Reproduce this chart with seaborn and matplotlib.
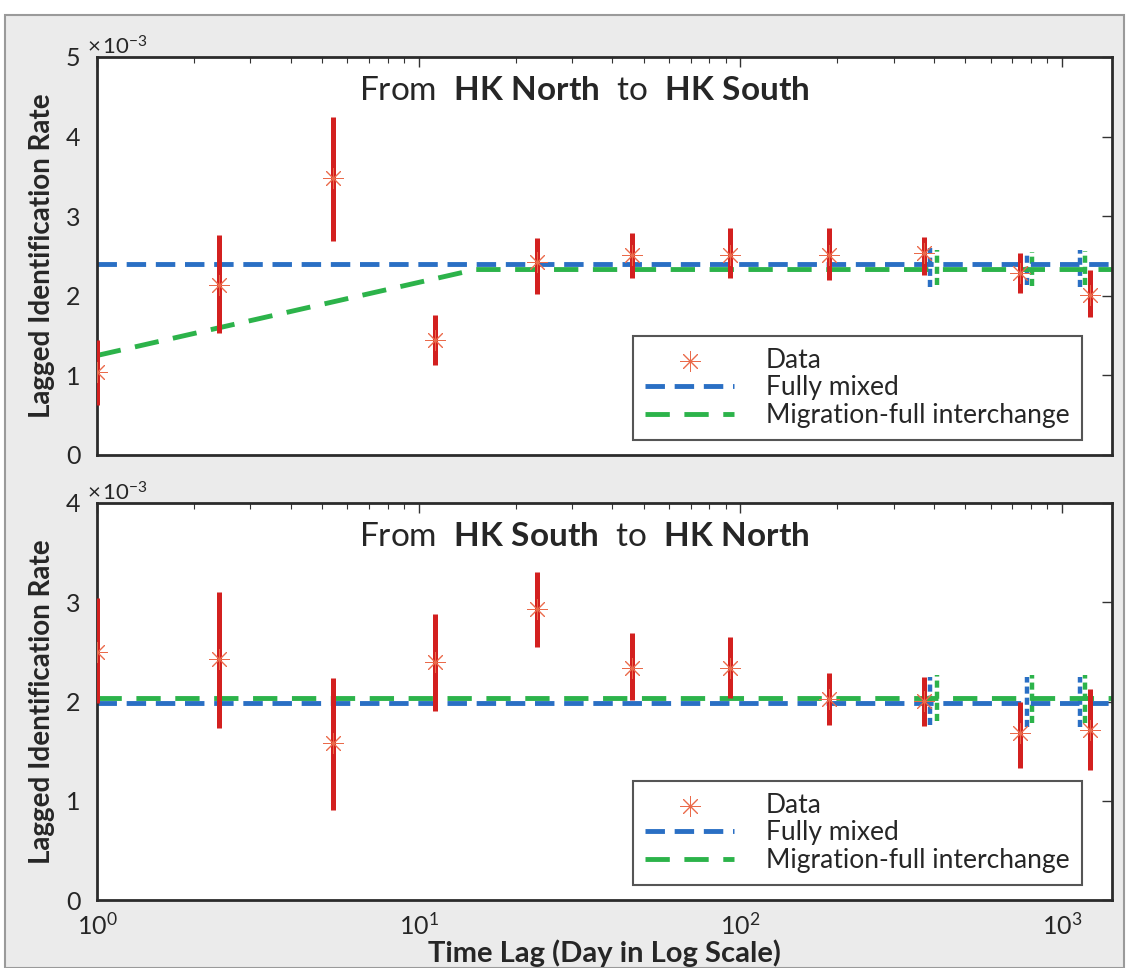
import numpy as np
import pandas as pd
import matplotlib
matplotlib.use('Agg')
import matplotlib.pyplot as plt
import seaborn as sns
from matplotlib.patches import Rectangle
from matplotlib.ticker import FuncFormatter, LogLocator

# time lags (days)
lags = [1, 2.4, 5.4, 11.2, 23.3, 46, 93, 188, 372, 740, 1220]

# From HK North to HK South (x 1e-3)
ns_rate = [1.04, 2.14, 3.48, 1.44, 2.42, 2.51, 2.51, 2.51, 2.54, 2.29, 2.01]
ns_low = [0.63, 1.53, 2.69, 1.13, 2.02, 2.22, 2.22, 2.20, 2.26, 2.04, 1.73]
ns_high = [1.44, 2.76, 4.25, 1.76, 2.73, 2.79, 2.85, 2.85, 2.74, 2.54, 2.32]
ns_mixed = 2.40
ns_mig_x = [1, 15, 1430]
ns_mig_y = [1.25, 2.33, 2.33]

# From HK South to HK North (x 1e-3)
sn_rate = [2.50, 2.43, 1.58, 2.40, 2.93, 2.34, 2.34, 2.03, 2.01, 1.68, 1.71]
sn_low = [1.98, 1.73, 0.91, 1.90, 2.55, 2.02, 2.04, 1.76, 1.75, 1.33, 1.31]
sn_high = [3.04, 3.10, 2.24, 2.88, 3.30, 2.69, 2.65, 2.29, 2.25, 2.00, 2.13]
sn_mixed = 1.98
sn_mig_x = [1, 15, 1430]
sn_mig_y = [2.04, 2.04, 2.04]

# model error bars near the long lags
mix_bar_x = [388, 778, 1137]
mig_bar_x = [408, 806, 1178]
ns_mix_bar = [(2.11, 2.60), (2.14, 2.55), (2.11, 2.58)]
ns_mig_bar = [(2.14, 2.58), (2.12, 2.55), (2.14, 2.56)]
sn_mix_bar = [(1.76, 2.25), (1.74, 2.25), (1.74, 2.25)]
sn_mig_bar = [(1.80, 2.27), (1.78, 2.27), (1.78, 2.27)]

sns.set_theme(style='white')
plt.rcParams['font.family'] = ['Lato', 'DejaVu Sans']
plt.rcParams['mathtext.fontset'] = 'custom'
plt.rcParams['mathtext.rm'] = 'Lato'
plt.rcParams['mathtext.bf'] = 'Lato:bold'
plt.rcParams['mathtext.it'] = 'Lato:italic'

RED = '#d3201f'
STAR = '#ea6a4a'
BLUE = '#2a6fc4'
GREEN = '#2cb34a'

fig = plt.figure(figsize=(11.29, 9.68), dpi=100, facecolor='white')
fig.patches.append(Rectangle((5 / 1129, 0), 1119 / 1129, 953 / 968, transform=fig.transFigure,
                             facecolor='#ebebeb', edgecolor='#9a9a9a', lw=1.5, zorder=-1))

ax1 = fig.add_axes([97 / 1129, 513 / 968, 1015 / 1129, 398 / 968])
ax2 = fig.add_axes([97 / 1129, 68 / 968, 1015 / 1129, 397 / 968])

panels = [
    (ax1, ns_rate, ns_low, ns_high, ns_mixed, ns_mig_x, ns_mig_y, ns_mix_bar, ns_mig_bar, 5,
     r'From  $\mathbf{HK\ North}$  to  $\mathbf{HK\ South}$'),
    (ax2, sn_rate, sn_low, sn_high, sn_mixed, sn_mig_x, sn_mig_y, sn_mix_bar, sn_mig_bar, 4,
     r'From  $\mathbf{HK\ South}$  to  $\mathbf{HK\ North}$'),
]

for ax, rate, low, high, mixed, mig_x, mig_y, mix_bar, mig_bar, ytop, title in panels:
    ax.set_facecolor('white')
    sc = 1e-3
    df = pd.DataFrame({'lag': lags, 'rate': np.array(rate) * sc})
    ax.vlines(lags, np.array(low) * sc, np.array(high) * sc, color=RED, lw=3.6, zorder=3)
    ax.vlines(mix_bar_x, [b[0] * sc for b in mix_bar], [b[1] * sc for b in mix_bar],
              color=BLUE, lw=3.2, linestyles=(0, (1.6, 0.9)), zorder=2)
    ax.vlines(mig_bar_x, [b[0] * sc for b in mig_bar], [b[1] * sc for b in mig_bar],
              color=GREEN, lw=3.2, linestyles=(0, (1.6, 0.9)), zorder=2)
    sns.lineplot(x=[1, 1430], y=[mixed * sc] * 2, ax=ax, color=BLUE, lw=3.5,
                 dashes=False, label='Fully mixed', zorder=2)
    ax.lines[-1].set_dashes((4, 2))
    sns.lineplot(x=mig_x, y=np.array(mig_y) * sc, ax=ax, color=GREEN, lw=3.5,
                 label='Migration-full interchange', zorder=2, sort=False)
    ax.lines[-1].set_dashes((5, 3))
    sns.scatterplot(data=df, x='lag', y='rate', ax=ax, marker=(8, 2, 0), s=200,
                    color=STAR, linewidth=0.7, label='Data', zorder=4)

    ax.set_xscale('log')
    ax.set_xlim(1, 1430)
    ax.set_ylim(0, ytop * sc)
    ax.set_yticks(np.arange(0, ytop + 1) * sc)
    ax.yaxis.set_major_formatter(FuncFormatter(lambda v, p: '%d' % round(v * 1000)))
    ax.xaxis.set_minor_locator(LogLocator(base=10, subs=np.arange(2, 10), numticks=20))
    ax.tick_params(which='both', direction='in', top=True, right=True, color='#333333')
    ax.tick_params(which='major', length=7, width=1, labelsize=18)
    ax.tick_params(axis='y', which='major', pad=12)
    ax.tick_params(axis='x', which='major', pad=9)
    ax.tick_params(which='minor', length=4, width=0.8)
    for s in ax.spines.values():
        s.set_color('#2b2b2b')
        s.set_linewidth(2)
    ax.text(-0.01, 0.995, r'$\times\,10^{-3}$', transform=ax.transAxes, fontsize=16,
            ha='left', va='bottom')
    ax.text(0.48, 0.915, title, transform=ax.transAxes, fontsize=24, ha='center', va='center')
    ax.set_ylabel('Lagged Identification Rate', fontsize=20, fontweight='bold', labelpad=8)

    h, l = ax.get_legend_handles_labels()
    order = [l.index('Data'), l.index('Fully mixed'), l.index('Migration-full interchange')]
    leg = ax.legend([h[i] for i in order], [l[i] for i in order], loc='lower right',
                    bbox_to_anchor=(0.970, 0.038), fontsize=19, frameon=True, fancybox=False,
                    edgecolor='#555555', framealpha=1, handlelength=3.4, borderpad=0.45,
                    labelspacing=0.1, handletextpad=1.2, borderaxespad=0)
    leg.get_frame().set_linewidth(1.5)

ax1.set_xticklabels([])
ax1.set_xlabel('')
ax2.set_xticks([1, 10, 100, 1000])
ax2.set_xticklabels([r'$10^{0}$', r'$10^{1}$', r'$10^{2}$', r'$10^{3}$'])
ax2.set_xlabel('Time Lag (Day in Log Scale)', fontsize=21, fontweight='bold', labelpad=0)

fig.savefig('out.png', dpi=100, facecolor=fig.get_facecolor())
